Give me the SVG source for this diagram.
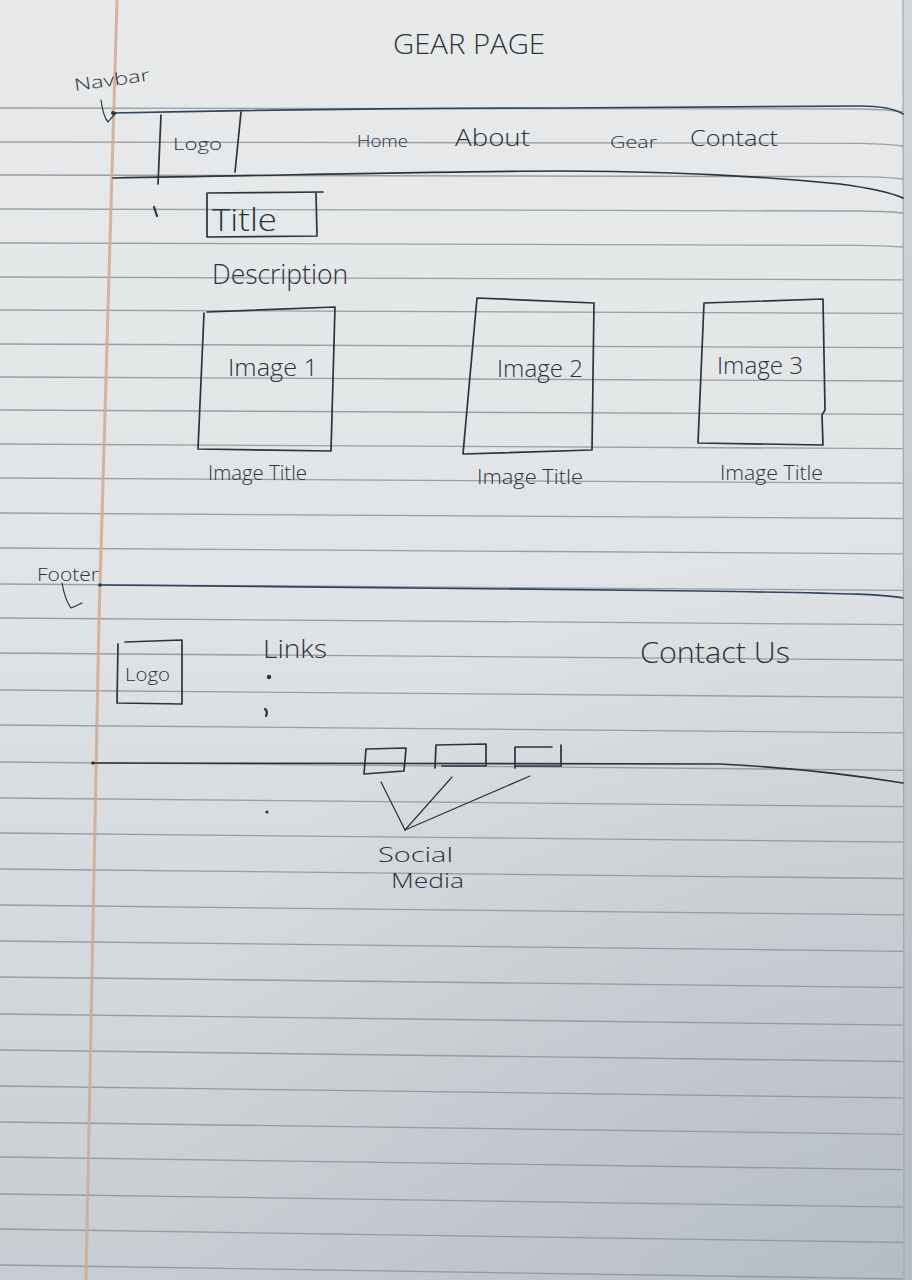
<svg xmlns="http://www.w3.org/2000/svg" width="912" height="1280" viewBox="0 0 912 1280">
  <defs>
    <linearGradient id="paperTone" x1="0" y1="0" x2="0" y2="1">
      <stop offset="0" stop-color="#e8eaea"/>
      <stop offset="0.45" stop-color="#e1e4e6"/>
      <stop offset="0.75" stop-color="#d3d8dc"/>
      <stop offset="1" stop-color="#c6ccd1"/>
    </linearGradient>
    <radialGradient id="cornerShade" cx="912" cy="1280" r="760" gradientUnits="userSpaceOnUse">
      <stop offset="0" stop-color="#a7afb7" stop-opacity="0.55"/>
      <stop offset="1" stop-color="#a7afb7" stop-opacity="0"/>
    </radialGradient>
    <linearGradient id="edgeTone" x1="0" y1="0" x2="0" y2="1">
      <stop offset="0" stop-color="#d2d6d8"/>
      <stop offset="1" stop-color="#b3bac0"/>
    </linearGradient>
    <style>
      .rule { stroke: #8c939a; stroke-width: 1.3; fill: none; opacity: 0.85; }
      .ink { stroke: #2b3240; stroke-width: 1.7; fill: none; stroke-linecap: round; stroke-linejoin: round; }
      .blue { stroke: #2f4464; }
      .thin { stroke-width: 1.2; }
      .hand { font-family: "Open Sans", "Liberation Sans", sans-serif; font-weight: 300; fill: #2b3240; }
    </style>
  </defs>

  <!-- sheet of ruled paper -->
  <g id="paper">
    <rect x="0" y="0" width="912" height="1280" fill="url(#paperTone)"/>
    <rect x="0" y="0" width="912" height="1280" fill="url(#cornerShade)"/>
    <rect x="903" y="0" width="9" height="1280" fill="url(#edgeTone)"/>
    <line x1="903" y1="0" x2="904" y2="1280" stroke="#a3aab0" stroke-width="1.2"/>
  </g>

  <!-- horizontal rules, dipping slightly toward the right -->
  <g id="rules" class="rule">
    <path d="M0,108 L860,109 Q890,109.5 903,112"/>
    <path d="M0,142 L860,143.3 Q890,144 903,146"/>
    <path d="M0,175 L860,176.7 Q890,177.3 903,179"/>
    <path d="M0,209 L860,211 Q890,211.6 903,213"/>
    <path d="M0,243 L860,245.3 Q890,246 903,247"/>
    <path d="M0,277 L903,279.9"/>
    <path d="M0,310 L903,313.3"/>
    <path d="M0,344 L903,347.6"/>
    <path d="M0,377 L903,381"/>
    <path d="M0,410 L903,414.4"/>
    <path d="M0,444 L903,448.7"/>
    <path d="M0,478 L903,483.1"/>
    <path d="M0,513 L903,518.5"/>
    <path d="M0,548 L903,553.8"/>
    <path d="M0,584 L903,590.3"/>
    <path d="M0,618 L903,624.6"/>
    <path d="M0,653 L903,660"/>
    <path d="M0,690 L903,697.4"/>
    <path d="M0,725 L903,732.8"/>
    <path d="M0,762 L903,770.3"/>
    <path d="M0,798 L903,806.7"/>
    <path d="M0,833 L903,842.1"/>
    <path d="M0,869 L903,878.5"/>
    <path d="M0,905 L903,914.9"/>
    <path d="M0,941 L903,951.3"/>
    <path d="M0,977 L903,987.6"/>
    <path d="M0,1014 L903,1025.1"/>
    <path d="M0,1050 L903,1061.5"/>
    <path d="M0,1086 L903,1097.9"/>
    <path d="M0,1122 L903,1134.3"/>
    <path d="M0,1157 L903,1169.7"/>
    <path d="M0,1194 L903,1207.1"/>
    <path d="M0,1229 L903,1242.5"/>
    <path d="M0,1265 L903,1278.9"/>
  </g>

  <!-- margin rule -->
  <polyline id="margin" points="117,0 99,620 86,1280" fill="none" stroke="#d3a98c" stroke-width="3" opacity="0.85"/>

  <!-- page heading -->
  <g id="page-heading">
    <text class="hand" x="393" y="54" font-size="28" textLength="152" lengthAdjust="spacingAndGlyphs">GEAR PAGE</text>
  </g>

  <!-- navbar band -->
  <g id="navbar">
    <text class="hand" x="75" y="91" font-size="17" textLength="76" lengthAdjust="spacingAndGlyphs" transform="rotate(-8 75 91)">Navbar</text>
    <path class="ink blue" d="M113,113 C250,110 400,108 560,108 L860,106 Q890,106 903,114"/>
    <path class="ink" d="M113,178 C300,175 450,171 560,171 C680,171 780,178 840,184 Q885,190 903,198"/>
    <circle cx="113" cy="113" r="2" fill="#2b3240"/>
  </g>

  <g id="nav-logo">
    <path class="ink" d="M161,115 L158,184 M241,112 L235,172"/>
    <text class="hand" x="173" y="150" font-size="16" textLength="49" lengthAdjust="spacingAndGlyphs">Logo</text>
  </g>
  <g id="nav-home"><text class="hand" x="357" y="147" font-size="17" textLength="51" lengthAdjust="spacingAndGlyphs">Home</text></g>
  <g id="nav-about"><text class="hand" x="455" y="146" font-size="23" textLength="75" lengthAdjust="spacingAndGlyphs">About</text></g>
  <g id="nav-gear"><text class="hand" x="610" y="148" font-size="17" textLength="47" lengthAdjust="spacingAndGlyphs">Gear</text></g>
  <g id="nav-contact"><text class="hand" x="690" y="146" font-size="22" textLength="88" lengthAdjust="spacingAndGlyphs">Contact</text></g>

  <!-- stray pen marks -->
  <g id="marks" fill="#2b3240">
    <path d="M154,207 L157,216" stroke="#2b3240" stroke-width="2.2" stroke-linecap="round"/>
    <circle cx="269" cy="677" r="2.2"/>
    <path d="M265,709 Q268,711 266,716" stroke="#2b3240" stroke-width="2.2" fill="none" stroke-linecap="round"/>
    <circle cx="267" cy="812" r="1.6"/>
  </g>

  <!-- hero: title and description -->
  <g id="title">
    <path class="ink" d="M208,193 L323,192 M316,193 L317,236 L207,237 L207,193"/>
    <text class="hand" x="212" y="231" font-size="31" textLength="65" lengthAdjust="spacingAndGlyphs">Title</text>
  </g>
  <g id="description">
    <text class="hand" x="212" y="284" font-size="27" textLength="136" lengthAdjust="spacingAndGlyphs">Description</text>
  </g>

  <!-- gallery cards -->
  <g id="image-1">
    <path class="ink" d="M207,312 L335,307 L331,451 L198,449 L204,313"/>
    <text class="hand" x="228" y="376" font-size="23" textLength="90" lengthAdjust="spacingAndGlyphs">Image 1</text>
    <text class="hand" x="208" y="480" font-size="21" textLength="99" lengthAdjust="spacingAndGlyphs">Image Title</text>
  </g>
  <g id="image-2">
    <path class="ink" d="M477,298 L594,303 L592,450 L463,454 Z"/>
    <text class="hand" x="497" y="377" font-size="23" textLength="86" lengthAdjust="spacingAndGlyphs">Image 2</text>
    <text class="hand" x="477" y="484" font-size="21" textLength="106" lengthAdjust="spacingAndGlyphs">Image Title</text>
  </g>
  <g id="image-3">
    <path class="ink" d="M704,303 L823,299 L825,410 L822,415 L823,445 L698,443 Z"/>
    <text class="hand" x="717" y="374" font-size="23" textLength="86" lengthAdjust="spacingAndGlyphs">Image 3</text>
    <text class="hand" x="720" y="480" font-size="21" textLength="103" lengthAdjust="spacingAndGlyphs">Image Title</text>
  </g>

  <!-- footer band -->
  <g id="footer">
    <text class="hand" x="37" y="581" font-size="18" textLength="62" lengthAdjust="spacingAndGlyphs">Footer</text>
    <path class="ink blue" d="M100,585 C300,587 500,588 700,591 S880,595 903,598"/>
    <path class="ink" d="M93,763 L720,764 C800,768 860,776 903,783"/>
    <circle cx="100" cy="585" r="1.8" fill="#2b3240"/>
    <circle cx="93" cy="763" r="1.8" fill="#2b3240"/>
  </g>
  <g id="footer-logo">
    <path class="ink" d="M125,642 L182,640 L182,704 L117,703 L118,644"/>
    <text class="hand" x="125" y="681" font-size="18" textLength="45" lengthAdjust="spacingAndGlyphs">Logo</text>
  </g>
  <g id="footer-links">
    <text class="hand" x="263" y="658" font-size="26" textLength="64" lengthAdjust="spacingAndGlyphs">Links</text>
  </g>
  <g id="footer-contact">
    <text class="hand" x="640" y="663" font-size="30" textLength="150" lengthAdjust="spacingAndGlyphs">Contact Us</text>
  </g>
  <g id="social-icons">
    <path class="ink" d="M366,749 L406,748 L404,771 L364,774 Z"/>
    <path class="ink" d="M435,768 L436,745 L486,744 L486,766 M442,766 L486,766"/>
    <path class="ink" d="M515,768 L515,747 L552,747 M561,745 L561,766 M515,766 L561,766"/>
  </g>
  <g id="social-media">
    <text class="hand" x="378" y="862" font-size="21" textLength="75" lengthAdjust="spacingAndGlyphs">Social</text>
    <text class="hand" x="391" y="888" font-size="21" textLength="73" lengthAdjust="spacingAndGlyphs">Media</text>
  </g>

  <!-- pointers -->
  <g id="connectors" class="ink thin">
    <path d="M101,100 Q103,116 108,122 Q112,117 116,113"/>
    <path d="M62,583 Q65,600 71,608 Q76,606 82,603"/>
    <path d="M381,782 L405,830"/>
    <path d="M452,777 L405,830"/>
    <path d="M530,776 L405,830"/>
  </g>
</svg>
